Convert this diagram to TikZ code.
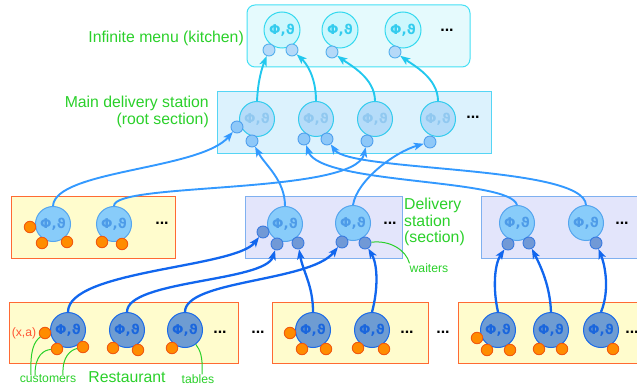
\documentclass[tikz,border=0pt]{standalone}
\usepackage{fontspec}
\setmainfont{Liberation Sans}
\newfontfamily\phifont{DejaVu Sans}
\usetikzlibrary{arrows.meta}
\definecolor{kitBg}{HTML}{E5FAFD}
\definecolor{kitBd}{HTML}{44E0F5}
\definecolor{kitCf}{HTML}{CCF7FD}
\definecolor{kitCd}{HTML}{33D9EF}
\definecolor{kitCt}{HTML}{33CCEE}
\definecolor{kitSf}{HTML}{B5D9F8}
\definecolor{kitSd}{HTML}{55B0EE}
\definecolor{rootBg}{HTML}{DCF2FD}
\definecolor{rootBd}{HTML}{55D5F5}
\definecolor{rootCf}{HTML}{B5DCF9}
\definecolor{rootCd}{HTML}{33CCEE}
\definecolor{rootCt}{HTML}{90C8F0}
\definecolor{rootSf}{HTML}{8EC8F8}
\definecolor{rootSd}{HTML}{50A0EE}
\definecolor{secBg}{HTML}{E3E5FB}
\definecolor{secBd}{HTML}{7FB0F0}
\definecolor{yelBg}{HTML}{FFFCCD}
\definecolor{yelBd}{HTML}{FF6A33}
\definecolor{secCf}{HTML}{88CCFA}
\definecolor{secCd}{HTML}{55A5EE}
\definecolor{secCt}{HTML}{4D9BE8}
\definecolor{secSf}{HTML}{7199D6}
\definecolor{secSd}{HTML}{3A7AE0}
\definecolor{resCf}{HTML}{6E9CD2}
\definecolor{resCd}{HTML}{1A6AE8}
\definecolor{resCt}{HTML}{1A66DD}
\definecolor{orF}{HTML}{FF8C00}
\definecolor{orD}{HTML}{F05A10}
\definecolor{arrC}{HTML}{22C8EE}
\definecolor{arrB}{HTML}{3399FF}
\definecolor{arrD}{HTML}{1166EE}
\definecolor{lblG}{HTML}{2AD02A}
\definecolor{lblO}{HTML}{FF5533}
\begin{document}
\begin{tikzpicture}[x=1pt,y=-1pt,
  boxbase/.style={rectangle, inner sep=0pt, line width=1pt},
  kbox/.style={boxbase, draw=kitBd, fill=kitBg, rounded corners=8pt},
  rbox/.style={boxbase, draw=rootBd, fill=rootBg},
  sbox/.style={boxbase, draw=secBd, fill=secBg},
  ybox/.style={boxbase, draw=yelBd, fill=yelBg},
  big/.style={circle, minimum size=35pt, inner sep=0pt, line width=1pt,
    font=\phifont\bfseries\fontsize{13.5}{13.5}\selectfont},
  bigK/.style={big, draw=kitCd, fill=kitCf, text=kitCt, minimum size=36pt},
  bigR/.style={big, draw=rootCd, fill=rootCf, text=rootCt},
  bigS/.style={big, draw=secCd, fill=secCf, text=secCt},
  bigT/.style={big, draw=resCd, fill=resCf, text=resCt},
  sm/.style={circle, minimum size=12pt, inner sep=0pt, line width=0.9pt},
  smK/.style={sm, draw=kitSd, fill=kitSf},
  smR/.style={sm, draw=rootSd, fill=rootSf},
  smS/.style={sm, draw=secSd, fill=secSf},
  smO/.style={sm, draw=orD, fill=orF, minimum size=11.5pt},
  dotsn/.style={inner sep=0pt, font=\bfseries\fontsize{16}{16}\selectfont},
  biglbl/.style={inner sep=0pt, text=lblG, font=\fontsize{15.8}{16.5}\selectfont},
  smlbl/.style={inner sep=0pt, text=lblG, font=\fontsize{12.2}{13}\selectfont},
  tip/.style={-{Stealth[length=10pt,width=7.5pt,inset=2.5pt]}},
  cyanarr/.style={tip, draw=arrC, line width=1.9pt},
  bluearr/.style={tip, draw=arrB, line width=1.9pt},
  darkarr/.style={tip, draw=arrD, line width=2.3pt},
  greenln/.style={draw=lblG, line width=1pt}
]
\useasboundingbox (0,0) rectangle (637,390);
\clip (0,0) rectangle (637,390);

% boxes
\node[kbox, minimum width=223pt, minimum height=62pt] (kitchen) at (358.5,36) {};
\node[rbox, minimum width=274pt, minimum height=62pt] (root) at (354,123) {};
\node[ybox, minimum width=164pt, minimum height=61pt] (secL) at (93,227.5) {};
\node[sbox, minimum width=157pt, minimum height=61pt] (secM) at (323.5,227.5) {};
\node[sbox, minimum width=169pt, minimum height=61pt] (secR) at (565.5,227.5) {};
\node[ybox, minimum width=229pt, minimum height=61pt] (resL) at (123.5,332.5) {};
\node[ybox, minimum width=156pt, minimum height=61pt] (resM) at (350,332.5) {};
\node[ybox, minimum width=192pt, minimum height=61pt] (resR) at (554,332.5) {};

% row 1
\node[bigK] (k1) at (282,30) {Φ,ϑ};
\node[bigK] (k2) at (340,30) {Φ,ϑ};
\node[bigK] (k3) at (403,30) {Φ,ϑ};
\node[smK] (ks1) at (269,50) {};
\node[smK] (ks2) at (292,50) {};
\node[smK] (ks3) at (332,52) {};
\node[smK] (ks4) at (395,52) {};
\node[dotsn] (kd) at (447,30) {...};

% row 2
\node[bigR] (m1) at (257,119) {Φ,ϑ};
\node[bigR] (m2) at (316,119) {Φ,ϑ};
\node[bigR] (m3) at (375,119) {Φ,ϑ};
\node[bigR] (m4) at (438,119) {Φ,ϑ};
\node[smR] (ms1) at (237,127) {};
\node[smR] (ms2) at (252,141) {};
\node[smR] (ms3) at (304,139) {};
\node[smR] (ms4) at (327,139) {};
\node[smR] (ms5) at (367,141) {};
\node[smR] (ms6) at (430,142) {};
\node[dotsn] (md) at (473,117) {...};

% row 3
\node[bigS] (a1) at (53,224) {Φ,ϑ};
\node[bigS] (a2) at (114,224) {Φ,ϑ};
\node[bigS] (b1) at (285,224) {Φ,ϑ};
\node[bigS] (b2) at (353,223) {Φ,ϑ};
\node[bigS] (c1) at (517,223) {Φ,ϑ};
\node[bigS] (c2) at (586,223) {Φ,ϑ};
\node[smO] (ao1) at (30,227) {};
\node[smO] (ao2) at (42,243) {};
\node[smO] (ao3) at (67,242) {};
\node[smO] (ao4) at (102,242) {};
\node[smO] (ao5) at (122,244) {};
\node[smS] (sm1) at (263,232) {};
\node[smS] (sm2) at (277,244) {};
\node[smS] (sm3) at (298,243) {};
\node[smS] (sm4) at (342,242) {};
\node[smS] (sm5) at (365,243) {};
\node[smS] (sr1) at (508,244) {};
\node[smS] (sr2) at (529,243) {};
\node[smS] (sr3) at (596,243) {};
\node[dotsn] (ad) at (162,223) {...};
\node[dotsn] (bd) at (390,223) {...};
\node[dotsn] (cd) at (622,223) {...};

% row 4
\node[bigT] (rl1) at (68,330) {Φ,ϑ};
\node[bigT] (rl2) at (127,330) {Φ,ϑ};
\node[bigT] (rl3) at (185,330) {Φ,ϑ};
\node[bigT] (rm1) at (313,330) {Φ,ϑ};
\node[bigT] (rm2) at (372,330) {Φ,ϑ};
\node[bigT] (rr1) at (498,330) {Φ,ϑ};
\node[bigT] (rr2) at (551,330) {Φ,ϑ};
\node[bigT] (rr3) at (601,330) {Φ,ϑ};
\node[smO] (o1) at (45,333) {};
\node[smO] (o2) at (57,349) {};
\node[smO] (o3) at (83,347) {};
\node[smO] (o4) at (113,348) {};
\node[smO] (o5) at (138,350) {};
\node[smO] (o6) at (172,348) {};
\node[smO] (o7) at (290,333) {};
\node[smO] (o8) at (302,349) {};
\node[smO] (o9) at (326,349) {};
\node[smO] (o10) at (358,348) {};
\node[smO] (o11) at (384,349) {};
\node[smO] (o12) at (477,338) {};
\node[smO] (o13) at (487,350) {};
\node[smO] (o14) at (510,350) {};
\node[smO] (o15) at (539,349) {};
\node[smO] (o16) at (562,349) {};
\node[smO] (o17) at (613,349) {};
\node[dotsn] (d1) at (220,332) {...};
\node[dotsn] (d2) at (258,332) {...};
\node[dotsn] (d3) at (407,332) {...};
\node[dotsn] (d4) at (443,332) {...};
\node[dotsn] (d5) at (632,332) {...};

% labels
\node[biglbl, anchor=east] (lk) at (244,38) {Infinite menu (kitchen)};
\node[biglbl, anchor=east, align=right] (lr) at (209,112) {Main delivery station\\(root section)};
\node[biglbl, anchor=west, align=left] (ls) at (404,222) {Delivery\\station\\(section)};
\node[smlbl] (wait) at (429,268) {waiters};
\node[smlbl] (cust) at (48,379) {customers};
\node[biglbl] (rest) at (127,377) {Restaurant};
\node[smlbl] (tab) at (198,379) {tables};
\node[inner sep=0pt, text=lblO, font=\fontsize{12.2}{13}\selectfont] (xa) at (24,333) {(x,a)};

% cyan connectors
\draw[cyanarr] (m1.north) .. controls (258,80) and (262,68) .. (ks1);
\draw[cyanarr] (m2.north) .. controls (316,75) and (305,62) .. (ks2);
\draw[cyanarr] (m3.north) .. controls (375,78) and (350,65) .. (ks3);
\draw[cyanarr] (m4.north) .. controls (438,78) and (413,65) .. (ks4);

% blue connectors
\draw[bluearr] (a1.north) .. controls (55,170) and (200,170) .. (ms1);
\draw[bluearr] (a2.north) .. controls (113,182) and (355,195) .. (ms5);
\draw[bluearr] (b1.north) .. controls (285,180) and (265,165) .. (ms2);
\draw[bluearr] (b2.north) .. controls (357,180) and (395,152) .. (ms6);
\draw[bluearr] (c1.north) .. controls (510,178) and (320,185) .. (ms3);
\draw[bluearr] (c2.north) .. controls (584,165) and (350,172) .. (ms4);

% dark blue connectors
\draw[darkarr] (rl1.north) .. controls (68,270) and (235,268) .. (sm1);
\draw[darkarr] (rl2.north) .. controls (127,280) and (265,282) .. (sm2);
\draw[darkarr] (rl3.north) .. controls (185,280) and (310,282) .. (sm4);
\draw[darkarr] (rm1.north) .. controls (313,285) and (303,272) .. (sm3);
\draw[darkarr] (rm2.north) .. controls (378,290) and (378,265) .. (sm5);
\draw[darkarr] (rr1.north) .. controls (493,290) and (494,265) .. (sr1);
\draw[darkarr] (rr2.north) .. controls (550,285) and (540,265) .. (sr2);
\draw[darkarr] (rr3.north) .. controls (610,290) and (605,265) .. (sr3);

% green pointers
\draw[greenln] ([xshift=-17pt]cust.north) .. controls (30,350) and (34,342) .. (o1);
\draw[greenln] ([xshift=-13pt]cust.north) .. controls (35,355) and (44,350) .. (o2);
\draw[greenln] ([xshift=15pt]cust.north) .. controls (62,356) and (71,350) .. (o3);
\draw[greenln] ([xshift=4pt]tab.north) .. controls (203,356) and (200,350) .. (rl3);
\draw[greenln] (wait.north west) .. controls (406,250) and (390,240) .. (sm5);
\end{tikzpicture}
\end{document}
